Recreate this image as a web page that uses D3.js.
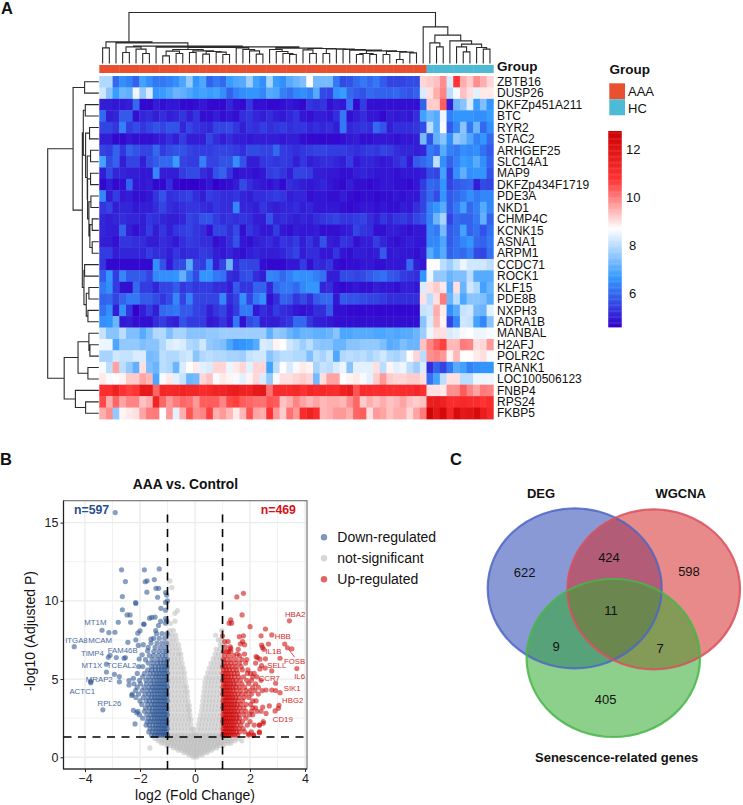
<!DOCTYPE html>
<html><head><meta charset="utf-8">
<script src="https://cdn.jsdelivr.net/npm/d3@7/dist/d3.min.js"></script>
<style>html,body{margin:0;padding:0;background:#fff}svg{display:block}text{font-family:"Liberation Sans",Arial,sans-serif;fill:#111}</style>
</head><body><svg id="fig" width="743" height="805"></svg>
<script>
// ---- Panel A: expression heatmap ----
const genes = ["ZBTB16","DUSP26","DKFZp451A211","BTC","RYR2","STAC2","ARHGEF25","SLC14A1","MAP9","DKFZp434F1719","PDE3A","NKD1","CHMP4C","KCNK15","ASNA1","ARPM1","CCDC71","ROCK1","KLF15","PDE8B","NXPH3","ADRA1B","MANBAL","H2AFJ","POLR2C","TRANK1","LOC100506123","FNBP4","RPS24","FKBP5"];
const groupSizes = [["AAA",49],["HC",10]];
const groupColors = ["#E9502F","#4DBBD5"];
const expression = [
[7.9,7.9,6.0,6.5,6.3,5.9,6.8,6.5,6.2,6.2,6.3,6.5,6.9,7.6,6.6,6.9,5.9,6.2,6.0,6.7,6.9,7.0,7.7,6.8,6.5,7.8,6.7,6.5,7.0,7.2, 7.4,8.7,7.3,7.3,7.3,6.2,5.6,5.7,6.0,6.2,6.0,6.2,5.8,5.5,5.5,5.5,5.6,5.6, 9.1,9.2,9.3,9.8,8.3,10.7,9.5,9.2,9.8,9.5,9.1],
[8.2,7.5,6.7,7.2,7.1,8.5,7.6,8.3,6.6,6.7,6.9,7.2,7.1,6.9,6.7,6.8,6.7,6.8,6.5,5.9,6.3,6.5,6.6,6.6,6.4,7.0,6.9,6.3,6.1,6.4, 6.5,6.3,7.0,5.6,5.5,6.5,6.7,6.0,5.8,5.7,6.0,5.9,5.9,5.9,6.0,5.8,5.7,5.9, 8.3,9.0,9.5,9.9,8.0,8.6,9.3,9.0,8.4,8.9,8.9],
[5.0,5.0,4.9,4.9,5.0,6.0,4.7,4.7,5.0,4.8,4.9,4.9,4.7,4.7,4.8,4.9,4.7,4.7,4.7,5.1,4.8,4.7,5.3,4.8,4.8,4.7,4.7,4.8,4.9,4.8, 4.7,5.3,5.2,5.3,4.8,5.0,4.9,6.1,4.7,5.4,4.8,4.8,4.8,4.8,4.8,4.8,4.8,4.8, 5.9,9.2,9.2,10.3,5.0,7.2,7.5,8.3,6.7,7.4,6.6],
[6.0,5.0,5.1,5.8,5.8,4.8,5.1,5.2,5.0,5.2,5.0,5.1,5.3,5.0,5.3,4.8,4.8,5.0,4.8,4.9,4.8,5.2,5.3,5.1,5.0,5.2,5.0,4.9,5.1,5.3, 4.9,4.8,5.0,5.0,4.9,5.2,6.2,4.8,5.0,5.2,4.9,4.9,4.7,5.0,4.9,5.0,4.9,5.2, 6.8,7.2,7.0,8.5,6.3,6.6,6.6,6.6,6.5,6.5,6.7],
[5.5,5.5,5.3,6.3,5.4,5.6,5.3,5.5,5.7,5.5,5.7,5.7,5.1,5.5,5.3,5.2,5.1,5.5,5.5,5.6,5.3,5.0,5.3,5.2,5.4,5.2,5.3,5.4,5.2,5.3, 5.3,5.1,5.2,5.1,5.2,5.0,6.2,5.1,5.2,5.3,5.2,6.0,5.7,5.0,5.2,5.2,5.2,5.3, 5.6,8.0,7.0,8.6,5.8,6.4,7.5,6.2,7.2,6.0,6.5],
[5.0,5.0,4.7,4.7,4.9,4.8,4.8,4.8,4.9,5.0,5.2,5.0,5.4,5.0,5.0,5.0,5.5,5.2,5.0,5.2,5.0,5.0,4.9,5.0,5.0,5.0,5.0,4.9,5.0,5.0, 4.8,4.7,4.7,4.7,4.7,4.7,4.8,4.9,5.0,4.8,4.8,4.9,4.9,4.9,4.8,4.9,4.9,5.0, 7.3,5.7,7.1,7.5,6.5,7.6,7.4,6.9,6.3,6.6,6.0],
[5.5,5.4,5.9,5.3,5.9,5.7,5.5,5.5,6.0,5.4,5.6,5.7,5.7,5.5,5.4,5.4,5.4,5.5,5.5,5.5,5.4,5.2,5.6,5.6,5.5,5.5,6.0,5.4,5.3,5.2, 5.3,5.4,5.5,5.5,5.4,5.4,5.4,5.3,5.2,5.3,5.4,5.3,5.5,5.4,5.2,5.1,5.1,5.0, 5.1,6.2,6.0,7.0,6.3,6.2,6.5,6.4,6.5,6.1,5.8],
[6.8,5.6,5.9,5.0,5.5,5.5,5.0,5.6,5.8,6.0,6.0,6.7,5.5,5.4,5.4,6.3,5.5,5.5,5.7,5.7,6.5,5.7,5.0,5.0,5.3,5.4,5.3,5.4,5.3,5.0, 5.3,5.0,5.1,5.2,5.2,5.1,5.0,5.4,4.9,5.1,5.1,5.0,4.9,5.0,5.2,5.4,4.9,5.8, 6.0,6.2,8.0,6.5,5.9,6.3,6.7,6.6,7.0,6.5,5.9],
[5.0,5.6,5.1,5.1,5.0,5.0,4.9,4.9,6.4,5.0,5.0,5.0,5.4,5.6,5.6,5.2,5.0,5.7,5.9,5.3,4.8,4.9,4.9,4.8,4.9,5.4,5.5,5.3,5.0,5.5, 5.5,5.4,5.0,5.0,4.9,4.9,4.8,4.8,5.0,5.1,5.0,4.9,4.9,4.9,4.8,4.9,4.9,4.9, 5.0,5.6,5.5,6.8,5.4,6.5,7.1,6.5,6.6,6.6,5.7],
[4.7,5.0,4.7,4.8,5.9,4.9,4.9,5.0,4.7,4.7,5.2,4.7,4.6,4.6,4.6,4.7,4.9,4.6,4.7,4.8,5.0,5.6,5.2,5.0,4.9,4.8,5.0,4.7,5.2,5.1, 5.0,4.9,5.0,5.1,4.9,4.8,4.7,5.0,4.8,4.8,4.7,4.8,4.9,4.9,4.8,4.8,4.7,4.9, 5.4,6.0,5.9,6.6,5.5,5.8,5.9,6.0,5.0,5.6,5.5],
[6.4,5.0,5.4,4.9,5.0,4.8,4.8,4.9,5.3,5.7,5.2,5.3,5.4,5.5,5.2,5.0,5.4,5.3,5.2,5.2,5.3,5.1,5.0,5.2,5.2,5.3,5.4,5.3,5.0,5.1, 5.1,4.8,4.9,4.9,4.8,4.8,5.0,4.8,4.7,4.8,4.8,4.7,4.8,4.8,4.9,4.8,4.9,4.9, 5.5,6.0,5.6,6.6,5.8,6.0,6.2,6.5,6.2,6.4,6.4],
[5.3,5.5,5.0,5.1,5.1,4.9,5.0,5.0,5.2,5.5,5.2,5.1,5.2,5.3,5.3,5.2,5.1,5.3,5.2,5.2,6.4,5.1,5.1,5.0,5.3,5.1,5.0,5.1,5.1,5.2, 5.0,5.1,4.9,4.9,4.9,4.9,4.8,4.7,4.8,4.9,4.9,4.8,4.9,4.8,4.8,5.0,4.9,5.2, 5.5,6.3,6.6,7.0,5.8,6.2,6.8,6.0,6.3,7.0,6.4],
[5.1,5.0,5.1,5.2,5.1,5.1,5.0,5.3,5.2,5.1,5.0,5.0,5.1,5.5,5.4,5.7,5.7,5.4,5.2,5.3,5.2,5.3,5.2,5.0,5.0,5.7,5.1,5.2,5.1,5.0, 5.1,5.0,5.2,5.3,5.4,5.5,5.3,5.3,5.4,5.5,5.2,5.0,5.3,5.1,5.3,5.4,5.2,5.5, 5.7,6.3,7.2,7.8,5.5,6.0,5.9,5.9,6.2,7.1,5.9],
[5.1,5.0,5.0,5.9,5.0,4.8,5.0,5.4,5.0,5.3,5.0,5.3,5.4,5.5,5.3,5.2,4.8,5.5,5.5,5.2,5.6,4.8,5.3,5.1,4.9,4.9,5.4,4.9,4.8,5.0, 4.9,4.9,5.0,4.8,4.8,4.8,4.9,5.0,5.5,5.3,5.2,4.8,4.8,5.0,5.0,4.9,4.8,4.9, 4.9,6.4,6.2,7.3,5.8,6.0,6.8,5.9,6.1,5.7,6.1],
[5.0,5.0,4.8,5.3,5.3,5.2,5.2,5.0,5.0,5.2,5.1,4.9,5.2,5.4,5.3,5.2,5.2,4.8,4.9,5.2,5.7,4.9,4.8,5.0,5.1,5.2,5.0,5.3,5.2,5.4, 5.0,5.3,5.0,5.7,5.0,4.9,5.3,5.2,4.8,5.0,5.0,5.4,5.1,4.9,4.8,4.9,5.0,4.9, 4.9,6.4,6.4,6.9,5.8,6.1,6.4,6.6,6.0,5.9,6.2],
[5.4,5.4,5.0,5.1,5.1,5.1,5.1,5.4,5.2,5.2,5.0,5.3,5.1,5.2,5.2,5.4,5.3,5.0,4.9,5.1,4.9,4.8,5.0,5.1,5.0,5.0,5.0,5.1,5.3,5.5, 5.0,5.2,5.2,4.9,4.9,5.3,4.9,4.8,5.0,5.0,4.9,5.0,5.8,4.9,5.0,4.9,4.9,4.8, 5.0,7.0,6.5,7.0,5.9,6.1,6.0,6.3,5.6,5.5,6.1],
[5.3,4.7,4.7,4.7,4.7,4.7,4.7,4.7,6.5,5.7,4.9,5.5,5.6,7.0,5.5,5.4,6.3,5.0,5.5,7.2,5.2,5.6,5.5,5.5,4.8,4.7,4.7,4.7,4.9,4.9, 5.4,4.8,5.2,5.1,5.3,4.8,4.7,4.8,4.8,4.9,4.9,4.8,4.8,4.9,4.9,4.9,6.0,5.0, 4.9,8.7,8.7,8.0,7.7,8.1,8.5,8.2,8.2,8.2,8.0],
[5.8,6.6,5.4,6.4,5.8,5.8,5.8,5.5,6.4,6.5,6.5,6.6,7.1,6.2,5.6,6.6,6.6,6.2,6.1,5.2,5.1,5.6,5.7,5.2,5.0,6.4,6.3,6.0,6.3,6.6, 6.5,6.5,6.3,6.1,5.0,5.0,5.6,5.6,5.5,5.6,5.8,6.0,6.1,5.8,5.7,5.4,5.3,5.2, 6.6,8.5,7.6,7.6,7.2,7.4,7.4,8.0,7.0,7.0,7.0],
[6.2,6.5,5.4,4.8,4.8,6.0,5.4,5.4,5.1,5.5,5.5,5.8,5.3,5.5,5.3,5.4,5.4,5.2,5.2,5.0,5.8,5.3,5.3,5.9,5.9,5.1,6.0,6.2,6.2,6.0, 6.4,6.6,6.6,5.1,5.2,4.8,4.7,4.8,4.9,4.8,4.8,5.0,4.9,4.9,4.8,5.0,5.0,4.9, 8.3,9.0,9.2,8.9,7.0,9.0,7.2,8.2,7.9,6.8,7.2],
[5.9,6.0,5.5,5.9,6.2,6.2,5.8,5.8,5.6,5.3,5.6,6.4,5.5,6.3,5.5,5.5,5.5,5.5,6.4,5.2,5.5,6.5,5.5,6.2,6.5,4.8,5.2,5.9,5.8,5.3, 5.6,5.2,5.8,6.0,6.0,4.9,5.8,5.7,5.7,5.6,5.5,5.5,5.4,5.2,5.2,5.2,5.2,5.2, 9.0,8.0,9.0,10.0,7.2,8.0,6.9,7.5,7.5,7.4,7.0],
[6.1,6.5,5.0,6.5,5.3,4.6,5.0,5.4,5.0,6.0,6.1,6.2,5.8,5.8,5.5,5.4,5.0,5.3,5.5,5.0,5.4,6.2,6.2,4.9,5.2,5.0,5.4,5.2,5.1,4.9, 4.8,4.9,5.2,5.2,5.8,4.8,4.8,4.7,4.7,4.7,4.7,4.7,4.7,4.7,4.7,4.7,4.7,4.7, 8.1,8.2,9.5,8.9,6.5,7.0,8.1,8.2,7.3,7.2,8.4],
[6.5,6.6,7.2,4.9,5.0,4.8,4.8,4.8,5.2,5.4,5.1,5.0,5.7,5.4,5.4,5.4,4.9,5.0,5.3,4.9,6.2,4.8,5.6,5.8,5.0,5.0,5.0,5.2,5.3,6.0, 6.0,5.3,5.0,5.0,4.9,4.8,4.8,4.8,4.8,4.8,4.8,4.8,4.8,4.8,4.8,4.8,4.8,4.8, 7.5,8.3,9.4,8.8,5.5,6.4,8.2,8.1,6.8,6.4,7.5],
[8.1,7.5,7.5,8.0,7.4,7.4,7.0,7.4,7.9,7.9,7.4,7.8,7.8,7.5,7.5,7.5,7.6,7.6,7.7,7.7,7.7,7.7,7.7,7.7,7.7,7.1,7.6,7.5,7.2,7.0, 7.2,7.2,7.1,7.1,7.2,7.5,6.9,6.9,7.0,7.0,7.0,6.9,6.9,7.0,6.9,7.0,7.0,7.2, 7.7,8.5,9.0,9.0,8.3,8.4,8.6,8.7,8.5,8.5,8.6],
[8.5,8.5,6.9,7.6,7.6,7.6,7.4,7.5,7.5,7.9,8.3,8.4,8.3,7.9,7.8,8.2,7.6,7.5,7.4,6.9,6.5,6.6,6.7,7.0,8.3,8.2,8.8,8.7,8.2,8.0, 7.7,8.0,7.6,7.5,7.5,7.2,7.2,7.5,7.5,7.6,7.6,7.6,7.4,7.0,7.1,7.4,7.2,7.2, 9.3,9.9,10.3,10.6,9.4,9.4,10.0,9.9,9.0,9.1,9.7],
[7.8,7.8,8.2,8.1,8.1,8.3,8.3,7.3,7.4,8.0,7.9,7.9,8.1,8.2,7.5,7.9,8.0,7.9,7.9,7.8,7.8,7.7,8.1,8.2,8.2,7.5,7.8,8.0,8.0,7.9, 7.9,7.4,8.0,7.8,8.1,6.9,7.9,8.0,7.9,8.0,7.8,8.0,8.2,7.9,7.8,8.0,8.7,9.1, 8.0,9.8,9.9,9.7,8.8,9.4,8.7,8.7,8.9,9.0,8.6],
[8.6,8.0,9.6,8.0,7.6,7.1,9.0,7.4,7.2,8.0,7.9,7.2,8.3,8.7,8.9,8.4,8.3,9.1,9.1,8.5,8.9,9.1,8.4,9.1,9.1,6.8,8.0,8.7,8.3,8.6, 8.9,8.8,7.8,8.1,8.0,8.3,8.5,7.5,8.4,8.4,8.4,9.0,8.0,8.8,8.4,8.5,8.0,7.7, 8.3,5.2,5.9,5.5,6.2,7.0,6.8,6.3,6.5,6.6,6.6],
[8.9,8.6,8.7,8.8,9.2,9.2,9.6,9.4,6.9,8.6,8.9,8.4,8.1,7.2,7.3,9.1,9.3,8.6,8.9,8.8,8.6,8.4,8.8,9.1,8.3,7.6,8.6,9.0,9.0,9.1, 9.2,9.1,7.3,9.0,9.6,9.6,8.7,8.8,8.9,8.6,8.4,9.2,9.7,9.2,9.1,9.1,9.2,9.2, 9.0,6.1,6.8,8.0,9.0,9.0,8.0,8.0,8.5,8.5,8.5],
[10.9,10.9,11.4,10.8,10.6,10.7,11.7,11.7,10.2,11.2,11.1,11.2,11.3,11.2,11.2,11.0,11.1,11.3,11.3,11.5,11.6,11.4,11.3,11.7,11.8,10.1,11.0,11.0,11.0,11.1, 10.8,11.2,11.0,11.1,11.0,10.9,11.4,11.6,10.4,11.0,11.0,10.9,11.0,10.9,10.9,11.0,11.0,11.2, 10.8,9.0,9.0,8.9,9.8,9.8,10.3,9.9,9.6,10.0,9.9],
[10.5,9.5,10.2,9.6,9.9,9.9,9.3,9.5,11.3,10.2,9.7,10.0,10.2,10.1,9.7,10.3,10.3,10.3,9.9,10.5,10.6,10.3,10.2,10.1,10.1,10.4,10.3,9.3,9.5,9.9, 9.6,9.4,9.6,9.4,9.5,9.5,9.4,9.8,10.2,9.2,9.5,9.3,9.5,9.3,9.4,9.6,9.3,9.2, 9.3,11.5,11.6,11.4,11.0,11.0,11.1,11.0,11.0,10.7,11.0],
[9.5,9.8,7.6,8.8,8.9,9.0,9.6,10.0,10.0,8.7,9.7,8.4,9.5,10.4,9.8,9.9,10.6,9.5,9.7,9.4,8.9,9.4,10.4,9.6,9.5,10.8,9.7,9.2,10.1,9.7, 11.0,11.4,11.0,9.4,9.5,9.7,9.7,9.5,10.2,10.3,9.0,9.7,9.6,9.3,9.5,9.5,9.1,9.6, 10.0,12.6,11.8,12.4,11.2,12.3,11.8,11.9,12.3,11.6,11.1]
];
// Dendrograms: each node is [height, left, right]; 0 is a leaf, taken in drawing order.
const sampleTree = [153,
  [65, [47,0,0],
    [62, 0,
      [52,
        [50, [33,0,0], [43,0,[30,0,0]]],
        [50,
          [49, 0, [48,
            [42, [37,[23,0,0],[30,0,0]], [38,[33,0,0],[36,[28,0,0],[34,0,[27,0,0]]]]],
            [47, 0, [42, 0, [38, 0, [28,0,0]]]]]],
          [46,
            [42, 0, [36, 0, [30, 0, [27,0,0]]]],
            [45, [41, 0, [30,0,0]],
              [44, [30,0,0], [43, 0, [42, 0, [40, 0, [38, [30,[27,0,0],[27,0,0]], [36,[27,0,0],[34,[12,0,0],[32,0,0]]]]]]]]]]]]]],
  [110, 0, [85,
    [62, 0, [50,0,0]],
    [68, 0, [58, [50,0,[35,0,0]], [48,0,[43,0,0]]]]]]
];
const geneTree = [155,
  [78, [43,0,0],
    [50,
      [47, [41,0,0], [40,[28,0,0],[35,[25,0,0],[34,[25,0,0],[30,[24,0,0],[27,[20,0,0],[20,0,0]]]]]]],
      [45, [43,0,0], [38,[30,0,0],[33,0,0]]]]],
  [105,
    [63, [30,0,[27,0,0]], [33,0,0]],
    [71, 0, [40,0,0]]]
];
const colorStops = ["#3300CC","#3399FF","#FFFFFF","#FF3333","#CC0000"];
const colorDomain = [4.6,6.64,8.68,10.71,12.75];
const colorTicks = [12,10,8,6];

// ---- Panel B: volcano plot (rows of [-log10 p, [log2 fc, ...]]) ----
const notSignificant = [
[0.02,[-.06,.06]],
[.15,[-.22,-.1,.02,.14,.26]],
[.3,[-.4,-.28,-.16,-.04,.08,.2,.32,.44]],
[.45,[-.6,-.48,-.36,-.24,-.12,0,.12,.24,.36,.48,.6]],
[.6,[-.78,-.66,-.54,-.42,-.3,-.18,-.06,.06,.18,.3,.42,.54,.66,.78,-1.64]],
[.75,[-1.02,-.9,-.78,-.66,-.54,-.42,-.3,-.18,-.06,.06,.18,.3,.42,.54,.66,.78,.9,1.02]],
[.9,[-1.22,-1.1,-.98,-.86,-.74,-.62,-.5,-.38,-.26,-.14,-.02,.1,.22,.34,.46,.58,.7,.82,.94,1.06,1.18,1.3]],
[1.05,[-1.34,-1.2,-1.08,-.96,-.84,-.72,-.6,-.48,-.36,-.24,-.12,0,.12,.24,.36,.48,.6,.72,.84,.96,1.08,1.2,1.32,1.46,1.7]],
[1.2,[-1.46,-1.3,-1.16,-1.02,-.9,-.78,-.66,-.54,-.42,-.3,-.18,-.06,.06,.18,.3,.42,.54,.66,.78,.9,1.02,1.14,1.26,1.4,1.56]],
[1.35,[-1.12,-.98,-.86,-.74,-.62,-.5,-.38,-.26,-.14,-.02,.04,.14,.26,.38,.5,.62,.74,.86,.98,1.1]],
[1.5,[-.98,-.86,-.74,-.62,-.5,-.38,-.26,-.14,-.04,.05,.17,.29,.41,.53,.65,.77,.89,.99]],
[1.8,[-.97,-.85,-.73,-.61,-.49,-.37,-.25,-.13,-.07,.1,.22,.34,.46,.58,.7,.82,.94]],
[2.1,[-.99,-.87,-.75,-.63,-.51,-.39,-.27,-.15,.13,.25,.37,.49,.61,.73,.85,.97]],
[2.4,[-.95,-.83,-.71,-.59,-.47,-.35,-.23,-.15,.16,.28,.4,.52,.64,.76,.88,.99]],
[2.7,[-.98,-.86,-.74,-.62,-.5,-.38,-.26,-.18,.2,.32,.44,.56,.68,.8,.92]],
[3,[-.96,-.84,-.72,-.6,-.48,-.36,-.24,-.2,.24,.36,.48,.6,.72,.84,.96]],
[3.3,[-.99,-.87,-.75,-.63,-.51,-.39,-.27,-.21,.26,.38,.5,.62,.74,.86,.98]],
[3.6,[-.95,-.83,-.71,-.59,-.47,-.35,-.25,.28,.4,.52,.64,.76,.88,.99]],
[3.9,[-.98,-.86,-.74,-.62,-.5,-.38,-.27,.3,.42,.54,.66,.78,.9]],
[4.2,[-.96,-.84,-.72,-.6,-.48,-.36,-.28,.32,.44,.56,.68,.8,.92]],
[4.5,[-.99,-.87,-.75,-.63,-.51,-.39,-.31,.34,.46,.58,.7,.82,.94]],
[4.8,[-.95,-.83,-.71,-.59,-.47,-.35,.36,.48,.6,.72,.84,.96]],
[5.1,[-.98,-.86,-.74,-.62,-.5,-.38,.4,.52,.64,.76,.88,.99]],
[5.4,[-.96,-.84,-.72,-.6,-.48,-.38,.46,.58,.7,.82,.94]],
[5.7,[-.99,-.87,-.75,-.63,-.51,-.42,.52,.64,.76,.88,.98]],
[6,[-.95,-.83,-.71,-.59,-.47,.58,.7,.82,.94]],
[6.3,[-.98,-.86,-.74,-.62,-.5,.66,.78,.9,.99]],
[6.6,[-.96,-.84,-.72,-.6,-.52,.73,.85,.97]],
[6.9,[-.93,-.81,-.69,-.57,.77,.9]],
[7.2,[-.97,-.85,-.73,-.6,.92,1]],
[7.5,[-.92,-.8,-.68,.85,.96]],
[7.8,[-.95,-.83,-.7,.75]],
[8.1,[-.9,-.78,.97]],
[8.55,[-.9]],[8.7,[-.73]],[9.2,[-.73]],[9.37,[-.64]],[10.85,[-.84]],[11.27,[-.91]]
];
const downDense = [
[1.42,[-1.01,-1.08,-1.15,-1.22,-1.3,-1.38,-1.47,-1.58]],
[1.62,[-1.04,-1.11,-1.19,-1.27,-1.35,-1.44,-1.55,-1.68]],
[1.84,[-1.01,-1.09,-1.16,-1.24,-1.33,-1.42,-1.52,-1.64]],
[2.06,[-1.03,-1.1,-1.18,-1.26,-1.34,-1.43,-1.53,-1.66,-1.78]],
[2.28,[-1.02,-1.09,-1.17,-1.25,-1.33,-1.42,-1.52,-1.62,-1.74]],
[2.5,[-1.04,-1.12,-1.2,-1.28,-1.37,-1.46,-1.57,-1.7,-1.9]],
[2.72,[-1.01,-1.08,-1.16,-1.24,-1.32,-1.41,-1.5,-1.6,-1.75,-2.02]],
[2.94,[-1.03,-1.11,-1.19,-1.27,-1.36,-1.45,-1.55,-1.67,-1.84,-2.08]],
[3.16,[-1.02,-1.1,-1.18,-1.26,-1.35,-1.44,-1.54,-1.66,-1.8]],
[3.38,[-1.04,-1.12,-1.2,-1.29,-1.38,-1.48,-1.58,-1.72,-1.93]],
[3.6,[-1.01,-1.09,-1.17,-1.25,-1.34,-1.43,-1.53,-1.65,-1.78,-2]],
[3.82,[-1.03,-1.11,-1.19,-1.28,-1.37,-1.47,-1.57,-1.7,-1.88,-2.15]],
[4.04,[-1.02,-1.1,-1.18,-1.27,-1.36,-1.46,-1.56,-1.68,-1.82,-2.05,-2.28]],
[4.26,[-1.04,-1.12,-1.21,-1.3,-1.39,-1.49,-1.6,-1.74,-1.92,-2.16]],
[4.48,[-1.01,-1.09,-1.17,-1.26,-1.35,-1.45,-1.55,-1.68,-1.85,-2.1]],
[4.7,[-1.03,-1.11,-1.2,-1.29,-1.38,-1.48,-1.6,-1.76,-1.98,-2.22]],
[4.92,[-1.02,-1.1,-1.19,-1.28,-1.38,-1.49,-1.62,-1.78,-2.02]],
[5.14,[-1.04,-1.13,-1.22,-1.32,-1.42,-1.54,-1.7,-1.9]],
[5.36,[-1.01,-1.1,-1.19,-1.29,-1.39,-1.5,-1.64,-1.84,-2.1]],
[5.58,[-1.03,-1.12,-1.22,-1.32,-1.44,-1.57,-1.72]],
[5.8,[-1.02,-1.11,-1.21,-1.32,-1.44,-1.58,-1.9,-2.05]],
[6.02,[-1.04,-1.14,-1.25,-1.37,-1.52,-1.7]],
[6.24,[-1.01,-1.12,-1.24,-1.38,-1.56,-1.8]],
[6.5,[-1.06,-1.18,-1.33,-1.5,-1.66]],
[6.76,[-1.03,-1.16,-1.32,-1.5]],
[7.02,[-1.09,-1.26,-1.45,-1.7]],
[7.3,[-1.04,-1.2,-1.38,-1.6]],
[7.6,[-1.1,-1.3,-1.5]],
[7.9,[-1.02,-1.2,-1.4]]
];
const downSparse = [[-2.9,15.64],[-2.67,11.98],[-1.84,11.98],[-1.3,12.04],[-2.53,11.23],[-1.48,11.36],[-1.81,11.22],[-1.74,11.28],[-1.42,10.8],[-1.32,10.8],[-1.75,10.55],[-1.07,10.53],[-2.64,10.27],[-1.36,10.23],[-1.03,10.37],[-2.16,9.89],[-2.15,9.83],[-1,10],[-1.07,9.9],[-2.64,9.43],[-1.24,9.52],[-1.07,9.4],[-2.47,9.1],[-2.36,9.1],[-1.65,8.89],[-1.57,8.94],[-1.45,8.96],[-1.07,8.87],[-1.03,8.72],[-2.79,8.63],[-2.34,8.63],[-1.87,8.52],[-1.25,8.68],[-1.33,8.42],[-1.07,8.57],[-3.38,8.12],[-3.13,7.97],[-2.91,7.99],[-2.08,7.93],[-2,8.08],[-1.85,8.5],[-4.39,7.07],[-2.44,7.35],[-2.15,7.5],[-2.06,7.15],[-1.88,7.2],[-3.15,6.39],[-3.09,6.52],[-2.86,6.37],[-2.58,6.33],[-2.53,6.37],[-3.22,5.95],[-3.22,5.45],[-2.93,5.3],[-2.75,5.16],[-2.75,4.82],[-3.79,4.83],[-3.79,4.77],[-3.35,3.03],[-2.4,4.9],[-2.24,5.05],[-2.18,2.13],[-2.24,3],[-2.12,2.84],[-2.4,4.62],[-2.3,3.95],[-2.03,6.28],[-1.92,6.55],[-1.72,6.8],[-1.6,7.55],[-1.43,8.1]];
const upDense = [
[1.42,[1.01,1.07,1.14,1.21,1.28,1.36,1.45,1.55,1.95,2.13]],
[1.62,[1.03,1.1,1.17,1.24,1.32,1.4,1.5,1.62,1.8,2.05,2.34]],
[1.84,[1.02,1.09,1.16,1.23,1.31,1.39,1.48,1.6,1.75]],
[2.06,[1.04,1.11,1.18,1.26,1.34,1.42,1.52,1.66,1.9,2.15,2.34]],
[2.28,[1.01,1.08,1.15,1.22,1.3,1.38,1.47,1.58,1.72,2,2.48]],
[2.5,[1.03,1.1,1.17,1.25,1.33,1.41,1.51,1.62,1.85]],
[2.72,[1.02,1.09,1.16,1.24,1.32,1.4,1.5,1.6,1.78,1.98,2.1]],
[2.94,[1.04,1.11,1.19,1.27,1.35,1.44,1.54,1.68,1.85,2.05,2.25,2.4]],
[3.16,[1.01,1.08,1.16,1.24,1.32,1.41,1.5,1.62,1.78,2.1,2.2]],
[3.38,[1.03,1.1,1.18,1.26,1.34,1.43,1.53,1.66,1.85,2.02]],
[3.6,[1.02,1.09,1.17,1.25,1.34,1.44,1.55,1.72,2.1,2.22]],
[3.82,[1.04,1.12,1.2,1.28,1.37,1.47,1.6,1.78,1.96]],
[4.04,[1.01,1.09,1.17,1.25,1.34,1.44,1.56,1.7,1.86,2.05,2.3]],
[4.26,[1.03,1.11,1.19,1.28,1.38,1.5,1.66,1.85,2,2.18,2.44]],
[4.48,[1.02,1.1,1.18,1.27,1.37,1.48,1.62,1.8,2.1,2.3]],
[4.7,[1.04,1.12,1.2,1.3,1.4,1.52,1.7,1.95,2.2]],
[4.92,[1.01,1.09,1.18,1.27,1.37,1.49,1.64,1.88,2.05,2.4]],
[5.14,[1.03,1.12,1.21,1.31,1.43,1.58,1.76,2.1,2.25]],
[5.36,[1.02,1.11,1.2,1.3,1.42,1.55,1.9,2.02,2.15]],
[5.58,[1.04,1.14,1.25,1.38,1.52,1.72,1.92]],
[5.8,[1.01,1.11,1.22,1.35,1.5,1.68]],
[6.02,[1.05,1.17,1.3,1.45,1.62,1.84,2.2]],
[6.25,[1.03,1.16,1.32,1.5,1.7,1.88]],
[6.5,[1.07,1.22,1.4,1.62]],
[6.76,[1.03,1.15,1.3]],
[7.05,[1.1,1.28]],
[7.4,[1.08,1.2]]
];
const upSparse = [[1.52,10.25],[1.76,10.48],[1.71,9.1],[3.43,8.72],[1.3,8.78],[1.24,8.57],[1.33,8.57],[2,8.35],[2.56,8.2],[2.79,7.82],[2.4,7.76],[1,7.76],[1.61,7.71],[1.76,7.76],[1.73,7.4],[1.8,7.2],[1.65,7.25],[1.3,6.95],[1.57,6.9],[1.53,6.6],[1.8,6.6],[1.22,6.75],[2.67,7.24],[2.42,7.17],[2.45,7.02],[2.5,6.9],[3.26,7.24],[3.36,7],[3.52,6.93],[2.22,6.43],[2.27,6.37],[2.36,6.27],[2.56,6.29],[3.09,6.33],[2.42,5.86],[2.36,5.65],[2.55,5.7],[2.79,5.52],[3.7,5.67],[2.93,4.73],[2.58,4.3],[2.79,4.3],[2.93,4.26],[3.09,4.13],[2.7,3.28],[3.05,3.32],[3.03,3.13],[2.91,2.96],[2.58,2.8],[2.46,3.2],[2.34,2.06],[2.48,2.17],[2.34,1.57],[1.95,1.5],[2.13,1.4]];
const downLabels = [["MT1M",-3.62,8.6],["ITGA8",-4.31,7.5],["MCAM",-3.45,7.5],["TIMP4",-3.73,6.65],["FAM46B",-2.63,6.82],["MT1X",-3.75,5.86],["TCEAL2",-2.67,5.86],["MRAP2",-3.48,5],["ACTC1",-4.1,4.23],["RPL26",-3.11,3.47]];
const upLabels = [["HBA2",3.64,9.15],["HBB",3.19,7.71],["IL1B",2.85,6.79],["FOSB",3.62,6.13],["SELL",2.97,5.86],["IL6",3.8,5.2],["CCR7",2.7,5.05],["SIK1",3.53,4.4],["HBG2",3.55,3.65],["CD19",3.19,2.44]];
const classNames = ["Down-regulated","not-significant","Up-regulated"];
const classColors = ["#27508f","#bdbdbd","#cc0000"];
const classCounts = ["n=597","n=469"];

// ---- Panel C: Venn diagram ----
const vennSets = ["DEG","WGCNA","Senescence-related genes"];
const vennCounts = [622,424,598,11,9,7,405];

const svg = d3.select("#fig");
const txt = (g,x,y,s,size,opts={}) => g.append("text").attr("x",x).attr("y",y).attr("dy",".35em")
  .attr("font-size",size).attr("font-weight",opts.bold?"bold":null).attr("text-anchor",opts.anchor||"start")
  .style("fill",opts.fill||null).text(s);

// panel letters
txt(svg,1,8,"A",16.5,{bold:true});
txt(svg,0,459,"B",16.5,{bold:true});
txt(svg,450,459,"C",16.5,{bold:true});

/* ---------- heatmap ---------- */
const hm = svg.append("g");
const nCols = expression[0].length;
const colScale = d3.scaleBand().domain(d3.range(nCols)).range([99.3,493.3]);
const rowScale = d3.scaleBand().domain(d3.range(genes.length)).range([76,419]);
const heatColor = d3.scaleLinear().domain(colorDomain).range(colorStops);

expression.forEach((row,r)=>{
  hm.selectAll(null).data(row).join("rect")
    .attr("x",(d,i)=>colScale(i)).attr("y",rowScale(r))
    .attr("width",colScale.bandwidth()+.4).attr("height",rowScale.bandwidth()+.4)
    .attr("fill",d=>heatColor(d));
});
hm.selectAll(null).data(genes).join("text")
  .attr("x",497).attr("y",(d,i)=>rowScale(i)+rowScale.bandwidth()/2).attr("dy",".35em")
  .attr("font-size",12).text(d=>d);

// group annotation strip
const groupOfCol = groupSizes.flatMap(([g,n],k)=>d3.range(n).map(()=>k));
hm.selectAll(null).data(groupOfCol).join("rect")
  .attr("x",(d,i)=>colScale(i)).attr("y",65).attr("width",colScale.bandwidth()+.4).attr("height",8)
  .attr("fill",d=>groupColors[d]);
txt(hm,497,66.5,"Group",13.5,{bold:true});

// dendrograms: walk a nested tree, assigning leaves to successive band centres
function dendrogramPath(tree,leafPos,heightPos,vertical){
  let next=0, d="";
  const pt=(a,h)=>vertical?[a,heightPos(h)]:[heightPos(h),a];
  const walk=n=>{
    if(n===0) return {a:leafPos(next++),h:0};
    const L=walk(n[1]),R=walk(n[2]);
    const p=[pt(L.a,L.h),pt(L.a,n[0]),pt(R.a,n[0]),pt(R.a,R.h)];
    d+="M"+p.map(q=>q.map(v=>v.toFixed(2)).join(",")).join("L");
    return {a:(L.a+R.a)/2,h:n[0]};
  };
  walk(tree);
  return d;
}
const colHeight = d3.scaleLinear().domain([0,153]).range([63.5,12.5]);
const rowHeight = d3.scaleLinear().domain([0,155]).range([98.8,47.7]);
hm.append("path").attr("fill","none").attr("stroke","#2b2b2b").attr("stroke-width",1.1)
  .attr("d",dendrogramPath(sampleTree,i=>colScale(i)+colScale.bandwidth()/2,colHeight,true));
hm.append("path").attr("fill","none").attr("stroke","#2b2b2b").attr("stroke-width",1.1)
  .attr("d",dendrogramPath(geneTree,i=>rowScale(i)+rowScale.bandwidth()/2,rowHeight,false));

// heatmap legends
txt(hm,609.5,69,"Group",13.5,{bold:true});
groupSizes.forEach(([g],k)=>{
  hm.append("rect").attr("x",609.3).attr("y",83.3+16*k).attr("width",15.7).attr("height",16).attr("fill",groupColors[k]);
  txt(hm,628,91.5+16.5*k,g,13);
});
const barScale = d3.scaleLinear().domain([12.75,4.6]).range([131,327]);
hm.selectAll(null).data(d3.range(4.6,12.75,0.05)).join("rect")
  .attr("x",608.3).attr("width",13.4).attr("y",d=>barScale(d)-1.2).attr("height",1.6)
  .attr("fill",d=>heatColor(d));
hm.selectAll(null).data(colorTicks).join("text")
  .attr("x",d=>d>=10?626:629).attr("y",d=>barScale(d)).attr("dy",".35em").attr("font-size",13).text(d=>d);

/* ---------- volcano ---------- */
const vol = svg.append("g");
const px = {l:63.5,r:307,t:500.7,b:769};
const x = d3.scaleLinear().domain([-4.78,4.07]).range([px.l,px.r]);
const y = d3.scaleLinear().domain([-0.75,16.4]).range([px.b,px.t]);

[-3,-1,1,3].forEach(v=>vol.append("line").attr("x1",x(v)).attr("x2",x(v)).attr("y1",px.t).attr("y2",px.b).attr("stroke","#eeeeee").attr("stroke-width",.8));
[2.5,7.5,12.5].forEach(v=>vol.append("line").attr("y1",y(v)).attr("y2",y(v)).attr("x1",px.l).attr("x2",px.r).attr("stroke","#eeeeee").attr("stroke-width",.8));
[-4,-2,0,2,4].forEach(v=>vol.append("line").attr("x1",x(v)).attr("x2",x(v)).attr("y1",px.t).attr("y2",px.b).attr("stroke","#ebebeb").attr("stroke-width",1.3));
[0,5,10,15].forEach(v=>vol.append("line").attr("y1",y(v)).attr("y2",y(v)).attr("x1",px.l).attr("x2",px.r).attr("stroke","#ebebeb").attr("stroke-width",1.3));

const expand = rows => rows.flatMap(([yy,xs])=>xs.map(v=>[v,yy]));
const dots = (pts,color)=>vol.append("g").selectAll("circle").data(pts).join("circle")
  .attr("cx",d=>x(d[0])).attr("cy",d=>y(d[1])).attr("r",2.6).attr("fill",color).attr("fill-opacity",.55);
dots(expand(notSignificant),classColors[1]);
dots(expand(downDense).concat(downSparse),classColors[0]);
dots(expand(upDense).concat(upSparse),classColors[2]);

vol.append("rect").attr("x",px.l).attr("y",px.t).attr("width",px.r-px.l).attr("height",px.b-px.t)
  .attr("fill","none").attr("stroke","#6b6b6b").attr("stroke-width",1.1);
vol.append("path").attr("fill","none").attr("stroke","#222").attr("stroke-width",1.2)
  .attr("d",`M${px.l},${px.t}V${px.b}H${px.r}`);

// threshold lines
[-1,1].forEach(v=>vol.append("line").attr("x1",x(v)).attr("x2",x(v)).attr("y1",px.b).attr("y2",508)
  .attr("stroke","#000").attr("stroke-width",1.6).attr("stroke-dasharray","8,6.5"));
vol.append("line").attr("x1",px.l).attr("x2",px.r).attr("y1",y(1.3)).attr("y2",y(1.3))
  .attr("stroke","#000").attr("stroke-width",1.6).attr("stroke-dasharray","8,6.5");

// gene labels
const geneLabels=(list,color)=>list.forEach(([g,a,b])=>
  txt(vol,x(a),y(b),g,7.8,{anchor:"middle",fill:color}).style("opacity",.85));
geneLabels(downLabels,"#27508f");
geneLabels(upLabels,"#cc0000");
vol.append("line").attr("x1",x(3.4)).attr("y1",y(6.9)).attr("x2",x(3.62)).attr("y2",y(6.4)).attr("stroke","#cc0000").attr("stroke-width",.7);

txt(vol,74,510,classCounts[0],12.3,{bold:true,fill:"#27508f"});
txt(vol,260.7,510,classCounts[1],12.3,{bold:true,fill:"#d8121a"});
txt(vol,185.5,484,"AAA vs. Control",13.8,{bold:true,anchor:"middle"});

// axes
const xAxis = d3.axisBottom(x).tickValues([-4,-2,0,2,4]).tickSize(3).tickPadding(2);
const yAxis = d3.axisLeft(y).tickValues([0,5,10,15]).tickSize(3).tickPadding(2);
const gx = vol.append("g").attr("transform",`translate(0,${px.b})`).call(xAxis);
const gy = vol.append("g").attr("transform",`translate(${px.l},0)`).call(yAxis);
[gx,gy].forEach(g=>{
  g.select(".domain").remove();
  g.selectAll("line").attr("stroke","#222");
  g.selectAll("text").attr("font-size",12.5).style("font-family",'"Liberation Sans",Arial,sans-serif').style("fill","#222");
});
txt(vol,195,795,"log2 (Fold Change)",14,{anchor:"middle"});
vol.append("text").attr("transform","translate(30,631) rotate(-90)").attr("dy",".35em")
  .attr("text-anchor","middle").attr("font-size",14).text("-log10 (Adjusted P)");

// class legend
classNames.forEach((n,k)=>{
  vol.append("circle").attr("cx",324).attr("cy",537.3+21*k).attr("r",3.2).attr("fill",classColors[k]).attr("fill-opacity",.6);
  txt(vol,337.3,537.3+21*k,n,14);
});

/* ---------- venn ---------- */
const venn = svg.append("g");
const vennStyle = [
  {cx:574.7,cy:588.3,rx:87,ry:80,fill:"rgb(40,70,180)",stroke:"#4d66c4"},
  {cx:653.7,cy:589.3,rx:86.3,ry:80,fill:"rgb(213,42,42)",stroke:"#d9505e"},
  {cx:613.3,cy:658,rx:86.7,ry:79,fill:"rgb(47,169,45)",stroke:"#48b648"}
];
venn.selectAll("ellipse").data(vennStyle).join("ellipse")
  .attr("cx",d=>d.cx).attr("cy",d=>d.cy).attr("rx",d=>d.rx).attr("ry",d=>d.ry)
  .attr("fill",d=>d.fill).attr("fill-opacity",.55);
venn.selectAll(null).data(vennStyle).join("ellipse")
  .attr("cx",d=>d.cx).attr("cy",d=>d.cy).attr("rx",d=>d.rx).attr("ry",d=>d.ry)
  .attr("fill","none").attr("stroke",d=>d.stroke).attr("stroke-width",2.2).attr("stroke-opacity",.85);
const vennAnchors=[[524.7,572.3],[609,557.7],[689,571],[611,610.7],[556,646.7],[660,648.3],[605.7,699]];
vennCounts.forEach((c,i)=>txt(venn,vennAnchors[i][0],vennAnchors[i][1],c,13,{anchor:"middle"}));
txt(venn,541,493,vennSets[0],13,{bold:true,anchor:"middle"});
txt(venn,680.7,493,vennSets[1],13,{bold:true,anchor:"middle"});
txt(venn,616.7,757.7,vennSets[2],13,{bold:true,anchor:"middle"});
</script></body></html>
